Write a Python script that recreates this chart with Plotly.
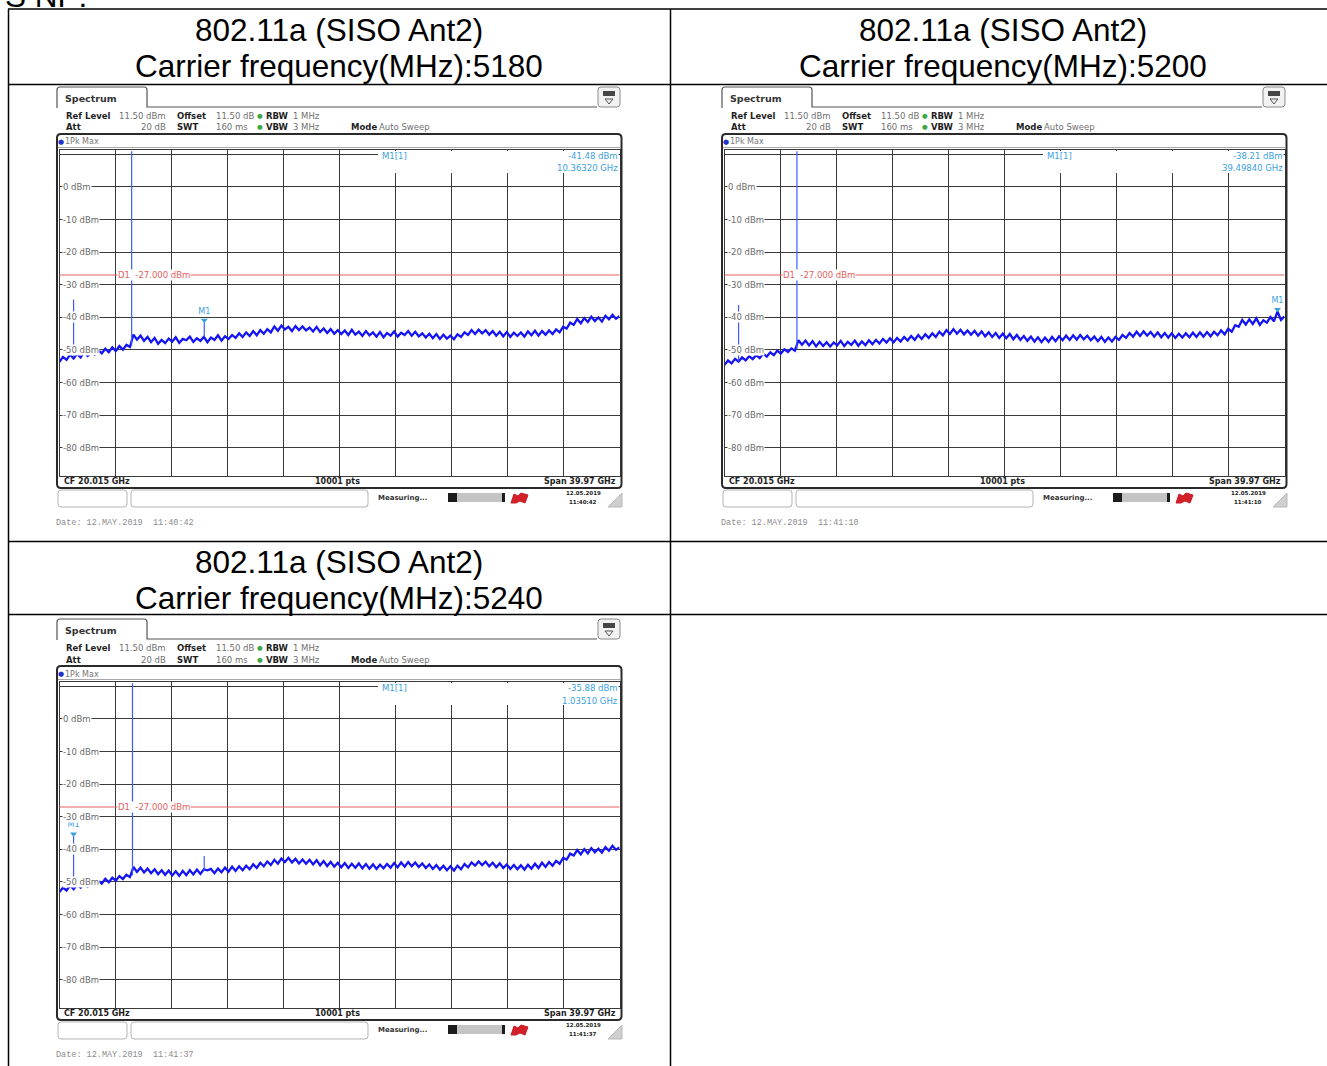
import numpy as np
import plotly.graph_objects as go

W, H = 1327, 1066

# table text
standard = "802.11a (SISO Ant2)"
carrier_mhz = [5180, 5200, 5240]
heading_stub = "S NP:"

# analyser settings
f_start, f_stop = 0.03, 40.0          # GHz
ref_level = 11.5                       # dBm
range_db = 100
level_labels = [0, -10, -20, -30, -40, -50, -60, -70, -80]
d1_limit = -27.0
sweep_points = 10001
sweep_times = ["11:40:42", "11:41:10", "11:41:37"]

# max-hold noise (dBm, evenly spaced over the span)
trace_5180 = [
    -53.6, -52.1, -53.0, -51.4, -52.6, -51.2, -52.3, -50.6, -51.8, -50.9,
    -51.5, -50.1, -51.0, -49.6, -50.7, -49.2, -50.3, -48.8, -49.9, -48.4,
    -49.1, -45.3, -46.8, -45.6, -47.2, -46.0, -47.6, -46.3, -48.1, -46.9,
    -47.9, -46.5, -47.4, -46.1, -47.8, -46.6, -47.0, -45.9, -47.5, -46.4,
    -47.2, -46.0, -47.6, -46.2, -46.9, -45.5, -47.1, -45.8, -46.6, -45.4,
    -46.3, -44.9, -46.0, -44.6, -45.7, -44.2, -45.5, -43.9, -45.0, -43.6,
    -44.6, -42.8, -44.1, -42.5, -43.7, -42.9, -44.2, -42.7, -43.9, -42.8,
    -44.0, -43.1, -44.3, -42.9, -44.5, -43.4, -44.8, -43.6, -45.0, -43.9,
    -45.1, -44.0, -45.4, -43.8, -45.3, -44.4, -45.7, -44.2, -45.5, -44.6,
    -45.9, -44.5, -46.1, -44.8, -45.6, -44.3, -45.9, -44.7, -45.4, -44.2,
    -45.6, -44.4, -45.8, -44.9, -46.2, -45.0, -46.4, -45.1, -46.6, -45.3,
    -46.5, -45.6, -46.7, -45.2, -46.0, -44.6, -45.4, -43.9, -45.1, -43.8,
    -44.9, -43.9, -45.3, -44.2, -45.6, -44.4, -45.8, -44.5, -46.0, -44.7,
    -45.7, -44.6, -45.9, -44.3, -45.5, -44.1, -45.6, -44.2, -45.3, -44.0,
    -45.1, -43.7, -44.6, -42.9, -43.4, -41.6, -42.3, -40.5, -41.8, -40.2,
    -41.4, -39.8, -41.1, -40.0, -41.3, -39.5, -40.6, -39.2, -40.4, -39.6,
]
trace_5200 = [
    -54.6, -53.2, -54.1, -52.7, -53.6, -52.3, -53.2, -51.9, -52.8, -51.6,
    -52.5, -51.1, -52.0, -50.7, -51.6, -50.2, -51.1, -49.8, -50.6, -49.5,
    -50.2, -47.0, -48.4, -47.1, -48.6, -47.3, -48.9, -47.5, -48.8, -47.6,
    -48.9, -47.7, -48.6, -47.2, -48.8, -47.5, -48.4, -47.1, -48.7, -47.4,
    -48.5, -47.0, -48.2, -46.9, -48.0, -46.6, -47.7, -46.4, -47.6, -46.3,
    -47.4, -46.0, -47.1, -45.7, -46.9, -45.4, -46.6, -45.2, -46.3, -44.9,
    -46.0, -44.4, -45.5, -43.9, -45.1, -43.6, -45.0, -43.8, -45.2, -44.0,
    -45.3, -44.1, -45.6, -44.3, -45.8, -44.6, -46.0, -44.8, -46.3, -45.0,
    -46.4, -45.1, -46.7, -45.4, -46.9, -45.7, -47.2, -45.9, -47.4, -46.1,
    -47.6, -46.2, -47.5, -46.0, -47.3, -45.8, -47.0, -45.6, -46.9, -45.5,
    -46.8, -45.4, -46.7, -45.6, -47.0, -45.9, -47.3, -46.0, -47.5, -46.2,
    -47.4, -46.0, -46.9, -45.4, -46.3, -44.8, -45.9, -44.4, -45.7, -44.3,
    -45.6, -44.5, -45.9, -44.6, -46.1, -44.8, -46.2, -44.9, -46.3, -45.0,
    -46.2, -44.9, -46.1, -44.7, -46.0, -44.6, -45.9, -44.5, -45.8, -44.4,
    -45.5, -44.0, -45.2, -43.5, -44.4, -42.4, -42.9, -40.8, -42.2, -40.6,
    -42.0, -40.3, -42.3, -40.9, -41.6, -39.9, -41.2, -38.2, -40.8, -39.7,
]
trace_5240 = [
    -53.1, -51.7, -52.6, -51.0, -52.2, -50.8, -51.7, -50.3, -51.4, -50.0,
    -50.9, -49.6, -50.5, -49.0, -50.1, -48.7, -49.6, -48.2, -49.1, -47.8,
    -48.5, -45.4, -46.9, -45.6, -47.1, -45.9, -47.3, -46.1, -47.6, -46.4,
    -47.8, -46.5, -48.0, -46.7, -48.1, -46.6, -47.9, -46.4, -47.7, -46.2,
    -47.5, -46.1, -46.4, -46.0, -47.3, -45.9, -47.0, -45.6, -46.8, -45.3,
    -46.6, -45.2, -46.4, -45.0, -46.1, -44.6, -45.7, -44.1, -45.2, -43.7,
    -44.8, -43.2, -44.4, -42.8, -43.9, -42.6, -44.0, -42.9, -44.3, -43.1,
    -44.4, -43.2, -44.6, -43.3, -44.9, -43.6, -45.1, -43.8, -45.3, -44.1,
    -45.5, -44.2, -45.7, -44.4, -45.6, -44.3, -45.8, -44.5, -45.9, -44.6,
    -46.0, -44.7, -45.8, -44.5, -45.6, -44.2, -45.5, -44.0, -45.3, -43.9,
    -45.2, -44.0, -45.4, -44.3, -45.7, -44.6, -46.0, -44.8, -46.2, -45.0,
    -46.4, -45.2, -46.5, -45.0, -46.1, -44.5, -45.5, -44.0, -45.0, -43.7,
    -44.8, -43.8, -45.2, -44.1, -45.5, -44.3, -45.7, -44.6, -46.0, -44.8,
    -46.1, -44.9, -46.2, -44.7, -45.9, -44.4, -45.7, -44.1, -45.4, -43.9,
    -45.0, -43.5, -44.4, -42.6, -43.1, -41.3, -41.9, -40.2, -41.5, -39.9,
    -41.2, -39.6, -40.9, -39.8, -41.0, -39.3, -40.4, -38.9, -40.1, -39.4,
]

# narrow lines standing out of the noise: frequency (GHz), foot and peak (dBm)
spur_f_5180 = [1.035, 5.18, 10.3632]
spur_lo_5180 = [-52.2, -48.6, -46.0]
spur_hi_5180 = [-34.5, 11.0, -41.48]
spur_f_5200 = [1.035, 5.20]
spur_lo_5200 = [-53.6, -49.8]
spur_hi_5200 = [-36.2, 11.0]
spur_f_5240 = [1.0351, 5.24, 10.36]
spur_lo_5240 = [-52.0, -48.0, -46.6]
spur_hi_5240 = [-35.88, 11.0, -42.0]

# marker M1 readout
marker_f = [10.3632, 39.4984, 1.0351]
marker_db = [-41.48, -38.21, -35.88]

panels = [
    dict(dx=0, dy=0, trace=trace_5180, sf=spur_f_5180, slo=spur_lo_5180, shi=spur_hi_5180),
    dict(dx=665, dy=0, trace=trace_5200, sf=spur_f_5200, slo=spur_lo_5200, shi=spur_hi_5200),
    dict(dx=0, dy=532, trace=trace_5240, sf=spur_f_5240, slo=spur_lo_5240, shi=spur_hi_5240),
]

NOISE = "#1414f4"
SPUR = "#3d5cff"
MARK = "#3a9fe0"
D1 = "#e46060"
GRID = "#3a3a3a"
NB = "\u00a0"


def px(x):
    return x / W


def py(y):
    return 1 - y / H


shapes, annots = [], []


def txt(x, y, s, size=9, color="#222", anchor="left", family="DejaVu Sans",
        bg="rgba(0,0,0,0)", yref="paper"):
    annots.append(dict(
        x=px(x), y=py(y) if yref == "paper" else y, xref="paper", yref=yref,
        text=s, showarrow=False, xanchor=anchor, yanchor="middle",
        font=dict(size=size, color=color, family=family), bgcolor=bg, borderpad=0,
    ))


def seg(x0, y0, x1, y1, color="#000", width=1):
    shapes.append(dict(type="line", xref="paper", yref="paper", x0=px(x0), y0=py(y0),
                       x1=px(x1), y1=py(y1), line=dict(color=color, width=width)))


def path(cmds, color="#000", width=1, fill="rgba(0,0,0,0)"):
    parts = []
    for op, *v in cmds:
        pts = " ".join(f"{px(v[i]):.5f},{py(v[i + 1]):.5f}" for i in range(0, len(v), 2))
        parts.append(f"{op} {pts}".strip())
    shapes.append(dict(type="path", xref="paper", yref="paper", path=" ".join(parts),
                       line=dict(color=color, width=width), fillcolor=fill))


def rbox(x0, y0, x1, y1, r=3, color="#999", width=1, fill="rgba(0,0,0,0)"):
    path([("M", x0 + r, y0), ("L", x1 - r, y0), ("Q", x1, y0, x1, y0 + r),
          ("L", x1, y1 - r), ("Q", x1, y1, x1 - r, y1), ("L", x0 + r, y1),
          ("Q", x0, y1, x0, y1 - r), ("L", x0, y0 + r), ("Q", x0, y0, x0 + r, y0), ("Z",)],
         color, width, fill)


fig = go.Figure()
layout = {}

for k, p in enumerate(panels):
    s = "" if k == 0 else str(k + 1)
    dx, dy = p["dx"], p["dy"]
    X = lambda x: x + dx
    Y = lambda y: y + dy

    # cell heading
    cx = 339 if dx == 0 else 1003
    txt(cx, Y(30), standard, 31.5, "#000", "center", "Liberation Sans")
    txt(cx, Y(66), f"Carrier frequency(MHz):{carrier_mhz[k]}", 31.5, "#000", "center", "Liberation Sans")

    # plot area of the analyser screen
    layout[f"xaxis{s}"] = dict(
        domain=[px(X(59.5)), px(X(619.5))], range=[f_start, f_stop], anchor=f"y{s}",
        tick0=f_start, dtick=(f_stop - f_start) / 10, showticklabels=False, ticks="",
        showgrid=True, gridcolor=GRID, gridwidth=1, zeroline=False,
        showline=True, linecolor=GRID, linewidth=1, mirror=True, fixedrange=True)
    layout[f"yaxis{s}"] = dict(
        domain=[py(Y(475.5)), py(Y(149.5))], range=[ref_level - range_db, ref_level],
        anchor=f"x{s}", tick0=0, dtick=10, showticklabels=False, ticks="",
        showgrid=True, gridcolor=GRID, gridwidth=1, zeroline=False,
        showline=True, linecolor=GRID, linewidth=1, mirror=True, fixedrange=True)

    freqs = np.linspace(f_start, f_stop, len(p["trace"]))
    fig.add_trace(go.Scatter(x=freqs, y=p["trace"], mode="lines", xaxis=f"x{s}", yaxis=f"y{s}",
                             line=dict(color=NOISE, width=2.3), hoverinfo="skip"))
    for f, lo, hi in zip(p["sf"], p["slo"], p["shi"]):
        fig.add_trace(go.Scatter(x=[f, f], y=[lo, hi], mode="lines", xaxis=f"x{s}", yaxis=f"y{s}",
                                 line=dict(color=SPUR, width=1.2), hoverinfo="skip"))
    fig.add_trace(go.Scatter(
        x=[marker_f[k]], y=[marker_db[k] + 0.6], mode="markers+text", xaxis=f"x{s}", yaxis=f"y{s}",
        marker=dict(symbol="triangle-down", size=6, color=MARK), text=["M1"],
        textposition="top center", textfont=dict(size=8, color=MARK, family="DejaVu Sans"),
        cliponaxis=False, hoverinfo="skip"))

    # display line D1
    shapes.append(dict(type="line", xref=f"x{s} domain", yref=f"y{s}", x0=0, x1=1,
                       y0=d1_limit, y1=d1_limit, line=dict(color=D1, width=1)))
    txt(X(117), d1_limit, f"D1{NB}{NB}{d1_limit:.3f} dBm", 8.5, D1, bg="white", yref=f"y{s}")

    # level labels
    for v in level_labels:
        txt(X(62), v, f"{v} dBm", 8.5, "#6a6a6a", bg="white", yref=f"y{s}")

    # marker table (hides the grid beneath it)
    shapes.append(dict(type="rect", xref="paper", yref="paper", x0=px(X(378)), x1=px(X(618.5)),
                       y0=py(Y(173)), y1=py(Y(151)), line=dict(width=0), fillcolor="white"))
    txt(X(381), Y(156), "M1[1]", 8.5, MARK)
    txt(X(619), Y(156), f"{marker_db[k]:.2f} dBm", 8.5, MARK, "right")
    txt(X(619), Y(168.5), f"{marker_f[k]:.5f} GHz", 8.5, MARK, "right")

    # screen frame and header
    rbox(X(57), Y(134), X(621.5), Y(488), 4, "#2a2a2a", 2)
    seg(X(58), Y(147.5), X(620), Y(147.5), "#a8a8a8", 1)
    txt(X(61), Y(142), "●", 7, "#2233cc", "center")
    txt(X(64), Y(142), "1Pk Max", 8, "#777")

    path([("M", X(57), Y(108)), ("L", X(57), Y(90)), ("Q", X(57), Y(87), X(60), Y(87)),
          ("L", X(144), Y(87)), ("Q", X(147), Y(87), X(147), Y(90)), ("L", X(147), Y(107)),
          ("L", X(597), Y(107))], "#555", 1.2)
    txt(X(64), Y(98), "<b>Spectrum</b>", 9.5, "#333")
    rbox(X(598), Y(87), X(620), Y(107), 3, "#8a8a8a", 1, "#f2f2f2")
    shapes.append(dict(type="rect", xref="paper", yref="paper", x0=px(X(603)), x1=px(X(615)),
                       y0=py(Y(96)), y1=py(Y(91)), line=dict(width=0), fillcolor="#454545"))
    path([("M", X(605), Y(99)), ("L", X(613), Y(99)), ("L", X(609), Y(104)), ("Z",)], "#555", 1)

    gray, dark = "#707070", "#1e1e1e"
    txt(X(65), Y(116), "<b>Ref Level</b>", 8.5, dark)
    txt(X(167), Y(116), f"{ref_level:.2f} dBm", 8.5, gray, "right")
    txt(X(176), Y(116), "<b>Offset</b>", 8.5, dark)
    txt(X(255), Y(116), "11.50 dB", 8.5, gray, "right")
    txt(X(260), Y(116), "●", 6.5, "#3aa845", "center")
    txt(X(265), Y(116), "<b>RBW</b>", 8.5, dark)
    txt(X(292), Y(116), "1 MHz", 8.5, gray)
    txt(X(65), Y(127.5), "<b>Att</b>", 8.5, dark)
    txt(X(167), Y(127.5), "20 dB", 8.5, gray, "right")
    txt(X(176), Y(127.5), "<b>SWT</b>", 8.5, dark)
    txt(X(249), Y(127.5), "160 ms", 8.5, gray, "right")
    txt(X(260), Y(127.5), "●", 6.5, "#3aa845", "center")
    txt(X(265), Y(127.5), "<b>VBW</b>", 8.5, dark)
    txt(X(292), Y(127.5), "3 MHz", 8.5, gray)
    txt(X(350), Y(127.5), "<b>Mode</b>", 8.5, dark)
    txt(X(378), Y(127.5), "Auto Sweep", 8.5, gray)

    # footer of the screen
    txt(X(63), Y(481.5), f"<b>CF {(f_start + f_stop) / 2:.3f} GHz</b>", 8, dark)
    txt(X(338), Y(481.5), f"<b>{sweep_points} pts</b>", 8, dark, "center")
    txt(X(617), Y(481.5), f"<b>Span {f_stop - f_start:.2f} GHz</b>", 8, dark, "right")

    # status bar
    rbox(X(58), Y(490), X(127), Y(507), 3, "#b4b4b4", 1, "white")
    rbox(X(131), Y(490), X(368), Y(507), 3, "#b4b4b4", 1, "white")
    txt(X(377), Y(497.5), "<b>Measuring...</b>", 7, "#333")
    shapes.append(dict(type="rect", xref="paper", yref="paper", x0=px(X(448)), x1=px(X(505)),
                       y0=py(Y(502)), y1=py(Y(493)), line=dict(width=0), fillcolor="#c4c4c4"))
    shapes.append(dict(type="rect", xref="paper", yref="paper", x0=px(X(448)), x1=px(X(457)),
                       y0=py(Y(502)), y1=py(Y(493)), line=dict(width=0), fillcolor="#1c1c1c"))
    shapes.append(dict(type="rect", xref="paper", yref="paper", x0=px(X(502)), x1=px(X(505)),
                       y0=py(Y(502)), y1=py(Y(493)), line=dict(width=0), fillcolor="#1c1c1c"))
    path([("M", X(511), Y(503)), ("L", X(514), Y(494)), ("L", X(518), Y(496)), ("L", X(521), Y(493)),
          ("L", X(528), Y(495)), ("L", X(525), Y(503)), ("L", X(520), Y(501)), ("L", X(516), Y(503)),
          ("Z",)], "#c81e28", 1, "#d42029")
    txt(X(583), Y(493), "<b>12.05.2019</b>", 5.5, "#222", "center")
    txt(X(583), Y(501.5), f"<b>{sweep_times[k]}</b>", 5.5, "#222", "center")
    path([("M", X(608), Y(507)), ("L", X(622), Y(507)), ("L", X(622), Y(493)), ("Z",)],
         "#b8b8b8", 1, "#cfcfcf")

    txt(X(55), Y(522.5), f"Date: 12.MAY.2019{NB}{NB}{sweep_times[k]}", 8.5, "#8c8c8c",
        family="Liberation Mono")

# table rules (the right edge of the table lies beyond the picture)
for yy in [9, 84.5, 541.5, 614.5]:
    seg(8, yy, W, yy, "#000", 1.5)
for xx in [8.5, 670.5]:
    seg(xx, 9, xx, H, "#000", 1.5)

# page heading above the table, cut off by the top edge
txt(4, -4, heading_stub, 31.5, "#000", "left", "Liberation Sans")

layout.update(
    width=W, height=H, margin=dict(l=0, r=0, t=0, b=0, pad=0),
    paper_bgcolor="white", plot_bgcolor="white", showlegend=False, hovermode=False,
    shapes=shapes, annotations=annots,
)
fig.update_layout(**layout)

fig.write_html("out.html", config={"displayModeBar": False},
               post_script="document.body.style.margin='0';")
